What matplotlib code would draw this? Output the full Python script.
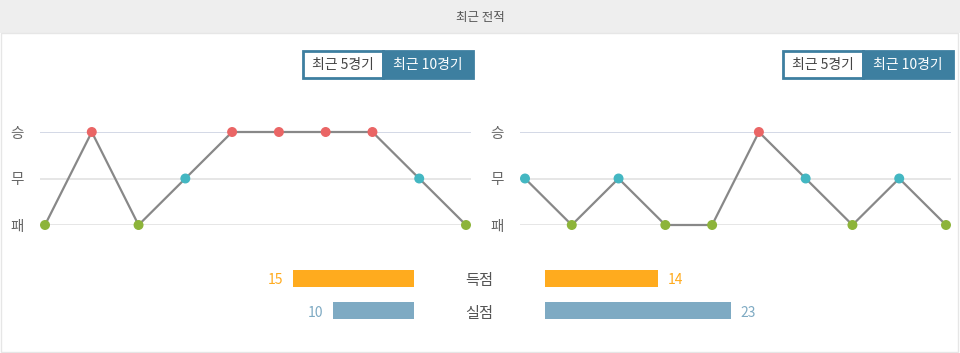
import matplotlib
matplotlib.use('Agg')
import matplotlib.pyplot as plt
from matplotlib.patches import Rectangle

plt.rcParams['font.family'] = ['Noto Sans CJK KR', 'DejaVu Sans']

# 결과: 2=승, 1=무, 0=패
home_form = [0, 2, 0, 1, 2, 2, 2, 2, 1, 0]
away_form = [1, 0, 1, 0, 0, 2, 1, 0, 1, 0]
result_labels = ['패', '무', '승']
stat_labels = ['득점', '실점']
home_stats = [15, 10]
away_stats = [14, 23]

W, H = 960, 353
fig = plt.figure(figsize=(W / 100, H / 100), dpi=100)
fig.patch.set_facecolor('white')

def fx(px):
    return px / W

def fy(py):
    return 1 - py / H

# header + panel
fig.patches.append(Rectangle((0, fy(33)), 1, 33 / H, transform=fig.transFigure,
                             facecolor='#eeeeee', edgecolor='none', zorder=-2))
fig.patches.append(Rectangle((fx(1), fy(352)), fx(957), (352 - 33) / H, transform=fig.transFigure,
                             facecolor='white', edgecolor='#e6e6e6', lw=1, zorder=-2))
fig.text(0.5, fy(17), '최근 전적', ha='center', va='center', fontsize=9, color='#555555')

dot_col = {2: '#ea6565', 1: '#43b7c2', 0: '#8db43a'}

def form_chart(x0, x1, form):
    step = (x1 - x0) / (len(form) - 1)
    pad = 5 / step
    left = x0 - 5
    ax = fig.add_axes([fx(left), fy(225), fx(x1 + 5 - left), (225 - 132) / H])
    ax.set_xlim(-pad, len(form) - 1 + pad)
    ax.set_ylim(0, 2)
    ax.axhline(2, color='#ccd2e2', lw=1.2, zorder=1)
    ax.axhline(1, color='#e2e2e2', lw=1.2, zorder=1)
    ax.axhline(0, color='#e2e2e2', lw=1.2, zorder=1)
    xs = list(range(len(form)))
    ax.plot(xs, form, color='#888888', lw=1.6, zorder=2, clip_on=False)
    ax.scatter(xs, form, c=[dot_col[v] for v in form], s=38, zorder=3, clip_on=False)
    ax.set_yticks([0, 1, 2])
    ax.set_yticklabels(result_labels, fontsize=10.5, color='#666666')
    ax.tick_params(axis='y', length=0, pad=12)
    ax.set_xticks([])
    for s in ax.spines.values():
        s.set_visible(False)
    ax.patch.set_alpha(0)

form_chart(45, 466, home_form)
form_chart(525, 946, away_form)

def buttons(x0):
    col = '#3d7fa0'
    fig.patches.append(Rectangle((fx(x0), fy(78)), fx(80), 27 / H, transform=fig.transFigure,
                                 facecolor='white', edgecolor=col, lw=2, zorder=1))
    fig.patches.append(Rectangle((fx(x0 + 80), fy(78)), fx(90), 27 / H, transform=fig.transFigure,
                                 facecolor=col, edgecolor=col, lw=2, zorder=1))
    fig.text(fx(x0 + 40), fy(65), '최근 5경기', ha='center', va='center', fontsize=10, color='#444444')
    fig.text(fx(x0 + 125), fy(65), '최근 10경기', ha='center', va='center', fontsize=10,
             color='white')

buttons(303)
buttons(783)

# goal bars
unit = 8.07
span = 26
bar_cols = ['#ffab1e', '#7eaac3']
axl = fig.add_axes([fx(414 - span * unit), fy(327), fx(span * unit), (327 - 262) / H])
axr = fig.add_axes([fx(545), fy(327), fx(span * unit), (327 - 262) / H])
ys = [1, 0]
axl.barh(ys, home_stats, height=0.53, color=bar_cols)
axr.barh(ys, away_stats, height=0.53, color=bar_cols)
axl.set_xlim(span, 0)
axr.set_xlim(0, span)
for ax in (axl, axr):
    ax.set_ylim(-0.5, 1.5)
    ax.axis('off')
off = 0.06
for y, v, c in zip(ys, home_stats, bar_cols):
    axl.text(v + 10 / unit, y - off, str(v), ha='right', va='center', fontsize=10, color=c)
for y, v, c in zip(ys, away_stats, bar_cols):
    axr.text(v + 10 / unit, y - off, str(v), ha='left', va='center', fontsize=10, color=c)
for y, lab in zip(ys, stat_labels):
    axl.text(-(479 - 414) / unit, y - 0.08, lab, ha='center', va='center', fontsize=11,
             color='#555555', clip_on=False)

fig.savefig('out.png', dpi=100)
